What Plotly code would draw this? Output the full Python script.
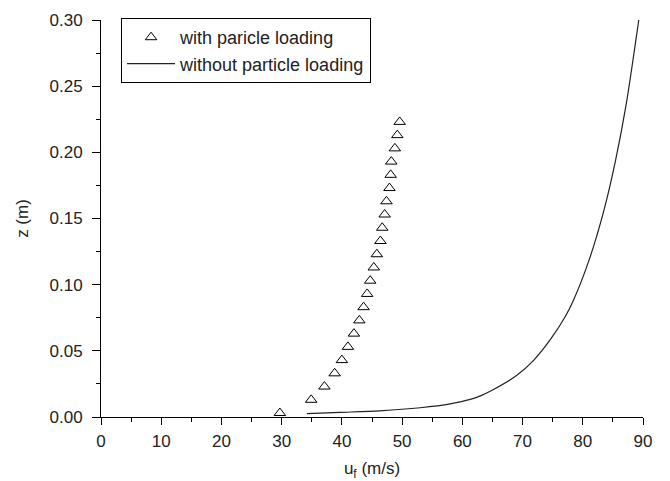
import plotly.graph_objects as go

# Data
z_with = [0.003, 0.013, 0.023, 0.033, 0.043, 0.053, 0.063, 0.073, 0.083, 0.093,
          0.103, 0.113, 0.123, 0.133, 0.143, 0.153, 0.163, 0.173, 0.183, 0.193,
          0.203, 0.213, 0.223]
u_with = [29.7, 34.9, 37.1, 38.8, 40.0, 41.0, 42.0, 42.9, 43.6, 44.2,
          44.7, 45.3, 45.8, 46.4, 46.7, 47.1, 47.4, 47.9, 48.1, 48.2,
          48.8, 49.2, 49.6]

u_without = [34.2, 39.7, 46.3, 53.0, 58.0, 61.3, 63.0, 65.1, 69.0, 71.8, 74.6,
             77.0, 78.4, 81.0, 83.5, 85.4, 87.2, 89.3]
z_without = [0.0025, 0.0035, 0.0047, 0.007, 0.0099, 0.0133, 0.016, 0.0206, 0.0313,
             0.0426, 0.0584, 0.0752, 0.0877, 0.118, 0.156, 0.193, 0.236, 0.300]

x_ticks = [0, 10, 20, 30, 40, 50, 60, 70, 80, 90]
y_ticks = [0.00, 0.05, 0.10, 0.15, 0.20, 0.25, 0.30]

FONT = "Liberation Sans, Arial, sans-serif"

fig = go.Figure()
fig.add_trace(go.Scatter(
    x=u_with, y=z_with, mode="markers", name="with paricle loading",
    marker=dict(symbol="triangle-up-open", size=10, color="black",
                line=dict(width=1, color="black")),
))
fig.add_trace(go.Scatter(
    x=u_without, y=z_without, mode="lines", name="without particle loading",
    line=dict(color="#222222", width=1.2, shape="spline", smoothing=0.8),
))

# The page body adds an 8px margin, so the figure is sized/offset to compensate.
fig.update_layout(
    width=662, height=473,
    margin=dict(l=93, r=27, t=10, b=64),
    paper_bgcolor="white", plot_bgcolor="white",
    font=dict(family=FONT, size=16, color="#222222"),
    showlegend=True,
    legend=dict(
        x=0.037, y=1.005, xanchor="left", yanchor="top",
        bgcolor="white", bordercolor="black", borderwidth=1,
        font=dict(family=FONT, size=18, color="#222222"),
        tracegroupgap=0, itemwidth=48,
    ),
)
fig.update_xaxes(
    range=[0, 90], tickmode="array", tickvals=x_ticks,
    ticktext=[str(v) for v in x_ticks],
    showline=True, linecolor="black", linewidth=1,
    ticks="outside", ticklen=7, tickwidth=1, tickcolor="black",
    minor=dict(dtick=5, tick0=0, ticks="outside", ticklen=4, tickwidth=1, tickcolor="black"),
    showgrid=False, zeroline=False, mirror=False, automargin=False,
    tickfont=dict(size=17), ticklabelstandoff=2,
    title=dict(text="u<sub>f</sub> (m/s)", font=dict(size=17), standoff=12),
)
fig.update_yaxes(
    range=[0, 0.30], tickmode="array", tickvals=y_ticks,
    ticktext=["%.2f" % v for v in y_ticks],
    showline=True, linecolor="black", linewidth=1,
    ticks="outside", ticklen=8, tickwidth=1, tickcolor="black",
    minor=dict(dtick=0.025, tick0=0, ticks="outside", ticklen=4, tickwidth=1, tickcolor="black"),
    showgrid=False, zeroline=False, mirror=False, automargin=False,
    tickfont=dict(size=17), ticklabelstandoff=6,
    title=dict(text="z (m)", font=dict(size=17), standoff=16),
)

fig.write_html("out.html")
